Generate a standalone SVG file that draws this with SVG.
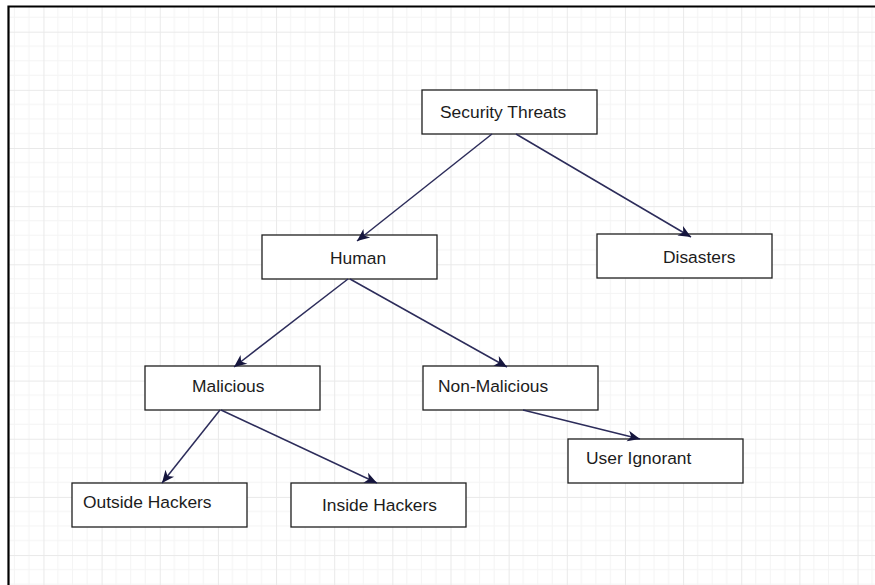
<svg xmlns="http://www.w3.org/2000/svg" width="875" height="585" viewBox="0 0 875 585">
  <style>
    .node rect { fill: #ffffff; stroke: #1f1f1f; stroke-width: 1.3; }
    .node text { font-family: "Liberation Sans", Arial, sans-serif; font-size: 17.4px; fill: #1c1c1c; }
    .edge { fill: none; stroke: #2c2c5a; stroke-width: 1.5; marker-end: url(#arrow); }
    .minor { stroke: #f4f4f4; stroke-width: 1; }
    .major { stroke: #e9e9e9; stroke-width: 1; }
  </style>
  <defs>
    <!-- drafting grid: 4 minor cells per major cell -->
    <pattern id="grid" patternUnits="userSpaceOnUse" x="43.45" y="31.7" width="58.15" height="58.15">
      <path class="minor" d="M14.54,0V58.15M29.08,0V58.15M43.61,0V58.15M0,14.54H58.15M0,29.08H58.15M0,43.61H58.15"/>
      <path class="major" d="M0.5,0V58.15M0,0.5H58.15"/>
    </pattern>
    <marker id="arrow" markerUnits="userSpaceOnUse" viewBox="0 0 14 14" refX="13" refY="7" markerWidth="14" markerHeight="14" orient="auto">
      <path d="M13,7 L0.5,1.5 L4,7 L0.5,12.5 Z" fill="#15153d"/>
    </marker>
  </defs>

  <rect width="875" height="585" fill="#ffffff"/>
  <rect x="8" y="6" width="867" height="579" fill="url(#grid)"/>

  <!-- frame edges -->
  <path d="M8.5,585 V6.5 H875" fill="none" stroke="#000000" stroke-width="2.2"/>

  <g id="security-threats" class="node">
    <rect x="422" y="90" width="175" height="44"/>
    <text x="440" y="118">Security Threats</text>
  </g>
  <g id="human" class="node">
    <rect x="262" y="235" width="175" height="44"/>
    <text x="330" y="264">Human</text>
  </g>
  <g id="disasters" class="node">
    <rect x="597" y="234" width="175" height="44"/>
    <text x="663" y="263">Disasters</text>
  </g>
  <g id="malicious" class="node">
    <rect x="145" y="366" width="175" height="44"/>
    <text x="192" y="392">Malicious</text>
  </g>
  <g id="non-malicious" class="node">
    <rect x="423" y="366" width="175" height="44"/>
    <text x="438" y="392">Non-Malicious</text>
  </g>
  <g id="user-ignorant" class="node">
    <rect x="568" y="439" width="175" height="44"/>
    <text x="586" y="464">User Ignorant</text>
  </g>
  <g id="outside-hackers" class="node">
    <rect x="72" y="483" width="175" height="44"/>
    <text x="83" y="508">Outside Hackers</text>
  </g>
  <g id="inside-hackers" class="node">
    <rect x="291" y="483" width="175" height="44"/>
    <text x="322" y="511">Inside Hackers</text>
  </g>

  <g id="connectors">
    <line class="edge" x1="492" y1="134" x2="357" y2="241"/>
    <line class="edge" x1="516" y1="134" x2="691" y2="237"/>
    <line class="edge" x1="348" y1="279" x2="234" y2="367"/>
    <line class="edge" x1="350" y1="279" x2="507" y2="367"/>
    <line class="edge" x1="220" y1="410" x2="162" y2="483"/>
    <line class="edge" x1="221" y1="410" x2="377" y2="483"/>
    <line class="edge" x1="523" y1="410" x2="640" y2="439"/>
  </g>
</svg>
